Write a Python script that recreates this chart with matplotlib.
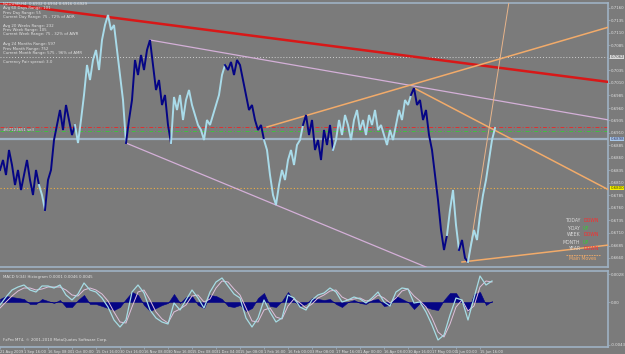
"""NZDUSD H4 chart in a MetaTrader-like look: price, trendlines, MACD pane."""
import numpy as np
import matplotlib.pyplot as plt
from matplotlib.transforms import blended_transform_factory

# ── data ──
close = [
    0.6836, 0.6856, 0.6826, 0.6876, 0.6846, 0.6806, 0.6836, 0.6796, 0.6826, 0.6856, 0.6816, 0.6786, 0.6836, 0.6806,
    0.6786, 0.6756,
    0.6816, 0.6836, 0.6896, 0.6926, 0.6956, 0.6916, 0.6966, 0.6936, 0.6906, 0.6926,
    0.6890, 0.6936, 0.6986, 0.7046, 0.7016, 0.7056, 0.7076, 0.7036, 0.7096, 0.7126, 0.7146, 0.7116, 0.7126, 0.7076,
    0.7026, 0.6976, 0.6890,
    0.6936, 0.6976, 0.7056, 0.7026, 0.7066, 0.7036, 0.7076, 0.7096, 0.7046, 0.6996, 0.7016, 0.6966, 0.6986, 0.6926,
    0.6890,
    0.6982, 0.6956, 0.6986, 0.6936, 0.6976, 0.6996, 0.6966, 0.6946, 0.6926, 0.6916, 0.6896, 0.6936, 0.6926, 0.6946,
    0.6966, 0.6986, 0.7026, 0.7046,
    0.7036, 0.7052, 0.7026, 0.7056, 0.7046, 0.7016, 0.6986, 0.6956, 0.6966, 0.6936, 0.6916, 0.6926, 0.6896,
    0.6876, 0.6826, 0.6786, 0.6766, 0.6806, 0.6836, 0.6816, 0.6856, 0.6876, 0.6846, 0.6886, 0.6896, 0.6926,
    0.6946, 0.6906, 0.6936, 0.6876, 0.6896, 0.6856, 0.6916, 0.6886, 0.6926, 0.6876,
    0.6896, 0.6936, 0.6906, 0.6946, 0.6926, 0.6896, 0.6936, 0.6956, 0.6916, 0.6936, 0.6906, 0.6946, 0.6926, 0.6956,
    0.6916, 0.6926, 0.6906, 0.6886, 0.6916, 0.6896, 0.6926, 0.6956, 0.6936, 0.6976, 0.6966, 0.6986,
    0.7000, 0.6966, 0.6976, 0.6936, 0.6956, 0.6906, 0.6876, 0.6826, 0.6776, 0.6716, 0.6676, 0.6706,
    0.6756, 0.6796, 0.6726, 0.6676,
    0.6696, 0.6660, 0.6652,
    0.6686, 0.6716, 0.6696, 0.6746, 0.6786, 0.6816, 0.6856, 0.6896, 0.6920,
]
# trend colouring: (direction, number of bars)
runs = [("dn", 14), ("up", 2), ("dn", 10), ("up", 17), ("dn", 15), ("up", 18), ("dn", 13),
        ("up", 13), ("dn", 10), ("up", 26), ("dn", 12), ("up", 4), ("dn", 3), ("up", 9)]

# MACD pane, sampled every 2 bars
macd_bar = list(range(0, 166, 2))
macd_main = [
    -3, 5, 12, 15, 17, 12, 10, 16, 16, 14, 17, 7, 2, 8, 19, 12, 10, 4, -5, -18, -25, -18, 10, 17, 9,
    -8, -16, -20, -22, -1, -8, 2, 12, 4, -6, 10, 20, 24, 16, 8, 4, -16, -25, -16, 2, -10, -20, -16,
    7, 4, -5, -8, 2, 7, 9, 14, 10, 0, 2, 5, 3, -1, 4, 10, 0, -4, 10, 14, 13, -1, 0, -10, -23, -38,
    -33, -13, 4, 2, -18, 4, 26, 17, 21,
]
macd_signal = [
    -6, 0, 6, 11, 14, 14, 12, 13, 15, 15, 15, 12, 7, 6, 12, 14, 12, 8, 1, -10, -20, -21, -5, 10, 12,
    2, -10, -17, -21, -10, -7, -3, 6, 7, 0, 3, 14, 21, 20, 13, 7, -6, -19, -20, -8, -6, -15, -17,
    -4, 3, -1, -6, -2, 4, 7, 11, 12, 5, 2, 3, 4, 1, 2, 7, 4, -1, 4, 11, 13, 6, 1, -5, -16, -30,
    -35, -22, -5, 2, -9, -4, 15, 21, 20,
]
macd_hist = [
    3, 6, 5, 4, 3, -2, -2, 3, 1, -1, 2, -5, -5, 2, 7, -2, -2, -4, -6, -8, -5, 3, 10, 7, -3,
    -9, -6, -3, -1, 8, -1, 5, 6, -3, -6, 7, 6, 3, -4, -5, -3, -9, -6, 4, 9, -4, -5, 1,
    10, 1, -4, -2, 4, 3, 2, 3, -2, -5, 0, 2, -1, -2, 2, 3, -4, -3, 6, 3, 0, -7, -1, -5, -7, -8,
    2, 9, 9, 0, -9, 8, 10, -3, 1,
]

# chart objects: ((bar, price), (bar, price))
red_line = ((0, 0.7170), (203, 0.7012))
lavender_lines = [((50, 0.7096), (203, 0.6936)), ((42, 0.6890), (146, 0.6632))]
orange_lines = [((89, 0.6922), (203, 0.7122)), ((138, 0.7000), (203, 0.6796)),
                ((154, 0.6652), (203, 0.6686))]
steep_line = ((156, 0.6652), (170, 0.7185))

level_gray = 0.7062
level_red = 0.6922
level_green = 0.6914
bid_price = 0.6898
level_orange = 0.6800

price_ticks = [0.7160, 0.7135, 0.7110, 0.7085, 0.7060, 0.7035, 0.7010, 0.6985, 0.6960, 0.6935,
               0.6910, 0.6885, 0.6860, 0.6835, 0.6810, 0.6785, 0.6760, 0.6735, 0.6710, 0.6685,
               0.6660]
date_bars = [0, 8, 16, 24, 32, 40, 48, 56, 64, 72, 80, 88, 96, 104, 112, 120, 128, 136, 144, 152, 160]
date_labels = ["21 Aug 2009", "1 Sep 16:00", "16 Sep 08:00", "1 Oct 00:00", "15 Oct 16:00",
               "30 Oct 16:00", "16 Nov 08:00", "30 Nov 16:00", "15 Dec 08:00", "31 Dec 04:00",
               "15 Jan 08:00", "1 Feb 16:00", "16 Feb 00:00", "3 Mar 08:00", "17 Mar 16:00",
               "1 Apr 00:00", "16 Apr 08:00", "30 Apr 16:00", "17 May 00:00", "1 Jun 00:00",
               "15 Jun 16:00"]

info_lines = [
    "NZDUSD,H4  0.6932 0.6934 0.6916 0.6929",
    "Avg 60 Days Range: 101",
    "Prev Day Range: 55",
    "Current Day Range: 75 - 72% of ADR",
    "Avg 20 Weeks Range: 232",
    "Prev Week Range: 105",
    "Current Week Range: 75 - 32% of AWR",
    "Avg 24 Months Range: 597",
    "Prev Month Range: 752",
    "Current Month Range: 575 - 96% of AMR",
    "Currency Pair spread: 3.0",
]
moves_names = ["TODAY", "Y-DAY", "WEEK", "MONTH", "YEAR"]
moves_dirs = ["DOWN", "UP", "DOWN", "UP", "DOWN"]

# ── style ──
BG = "#7b7b7b"
AXC = "#9fb2c4"
TXT = "#e2e2e2"
LIGHT = "#a9dbe9"
NAVY = "#050585"
ORANGE = "#f2ab6a"
W, H = 625, 354
FS = 2.8

fig = plt.figure(figsize=(W / 100, H / 100), dpi=100, facecolor=BG)
ax = fig.add_axes([0, 1 - 267 / H, 608 / W, 264 / H], facecolor=BG)
ax2 = fig.add_axes([0, 1 - 347 / H, 608 / W, 76 / H], facecolor=BG)

XMAX = 608 / 3
for a in (ax, ax2):
    a.set_xlim(0, XMAX)
    for side in ("top", "bottom", "right"):
        a.spines[side].set_color(AXC)
        a.spines[side].set_linewidth(1.2)
    a.spines["left"].set_visible(False)
    a.yaxis.tick_right()
    a.tick_params(axis="y", labelsize=FS, colors=AXC, labelcolor=TXT, length=1.5, width=0.5, pad=0.8)

ax.set_ylim(0.6642, 0.7170)
ax.set_yticks(price_ticks)
ax.set_yticklabels([f"{v:.4f}" for v in price_ticks])
ax.set_xticks([])

# price, coloured by trend run
start = 0
for direction, n in runs:
    idx = np.arange(max(start - 1, 0), start + n)
    ax.plot(idx, [close[i] for i in idx], color=LIGHT if direction == "up" else NAVY,
            lw=1.4, solid_joinstyle="miter", zorder=4)
    start += n

# horizontal levels
ax.axhline(level_gray, color="#d0d0d0", lw=0.7, ls=(0, (1, 2)), zorder=2)
ax.axhline(level_red, color="#e03030", lw=0.7, ls=(0, (4, 2, 1, 2)), zorder=2)
ax.axhline(level_green, color="#40c040", lw=0.7, ls=(0, (4, 2, 1, 2)), zorder=2)
ax.axhline(bid_price, color=AXC, lw=1.6, zorder=2)
ax.axhline(level_orange, color="#f0b040", lw=0.8, ls=(0, (1, 2)), zorder=2)

# trendlines
(x0, y0), (x1, y1) = red_line
ax.plot([x0, x1], [y0, y1], color="#d81818", lw=1.8, zorder=3)
for (x0, y0), (x1, y1) in lavender_lines:
    ax.plot([x0, x1], [y0, y1], color="#d4b0d8", lw=0.9, zorder=3)
for (x0, y0), (x1, y1) in orange_lines:
    ax.plot([x0, x1], [y0, y1], color=ORANGE, lw=1.1, zorder=3)
(x0, y0), (x1, y1) = steep_line
ax.plot([x0, x1], [y0, y1], color="#e8b48a", lw=0.7, zorder=3)

# highlighted price labels on the scale
tr = blended_transform_factory(ax.transAxes, ax.transData)
for val, fc, tc in [(level_gray, "#d8d8d8", "#505050"), (bid_price, "#a8c8ea", "#303060"),
                    (level_orange, "#f4f000", "#404000")]:
    ax.text(1.004, val, f"{val:.4f}", transform=tr, fontsize=FS, color=tc, va="center",
            ha="left", clip_on=False, zorder=6,
            bbox=dict(boxstyle="square,pad=0.1", fc=fc, ec="none"))

# info block top-left
info_y = [3, 7, 12, 16, 25, 29, 33, 43, 48, 52, 61]
for s, py in zip(info_lines, info_y):
    fig.text(3 / W, 1 - (py + 1) / H, s, fontsize=FS, color=TXT, va="center", ha="left")
fig.text(3 / W, 1 - 130 / H, "#67123651 sell", fontsize=FS, color=TXT, va="center", ha="left")

# main moves panel
for i, (name, d) in enumerate(zip(moves_names, moves_dirs)):
    py = 221 + 7 * i
    fig.text(580 / W, 1 - py / H, name, fontsize=3.3, color="#dcdcdc", ha="right", va="center")
    fig.text(583 / W, 1 - py / H, d, fontsize=3.3, color="#ff2a2a" if d == "DOWN" else "#30d030",
             ha="left", va="center")
fig.lines.append(plt.Line2D([566 / W, 600 / W], [1 - 255 / H, 1 - 255 / H], color=ORANGE,
                            lw=0.6, ls=(0, (2, 1)), transform=fig.transFigure))
fig.text(583 / W, 1 - 259 / H, "Main Moves", fontsize=3.3, color=ORANGE, ha="center", va="center")

# ── MACD pane ──
ax2.set_ylim(-0.0045, 0.0031)
hb = np.array(macd_bar)
ax2.fill_between(hb, 0, np.array(macd_hist) / 1e4, color=NAVY, lw=0.4, zorder=2)
ax2.plot(hb, np.array(macd_signal) / 1e4, color="#e0c0dc", lw=0.7, zorder=3)
ax2.plot(hb, np.array(macd_main) / 1e4, color="#a6dce4", lw=0.9, zorder=4)
ax2.set_yticks([0.0028, 0.0, -0.0043])
ax2.set_yticklabels(["0.0028", "0.00", "-0.0043"])
ax2.set_xticks(date_bars)
ax2.set_xticklabels(date_labels, ha="left")
ax2.tick_params(axis="x", labelsize=2.6, colors=AXC, labelcolor=TXT, length=1.5, width=0.5, pad=0.5)
ax2.text(0.005, 0.95, "MACD 5(34) Histogram 0.0001 0.0046 0.0045", transform=ax2.transAxes,
         fontsize=FS, color=TXT, va="top", ha="left")
ax2.text(0.005, 0.06, "FxPro MT4, \u00a9 2001-2010 MetaQuotes Software Corp.", transform=ax2.transAxes,
         fontsize=FS, color=TXT, va="bottom", ha="left")

fig.savefig("out.png", dpi=100, facecolor=BG)
